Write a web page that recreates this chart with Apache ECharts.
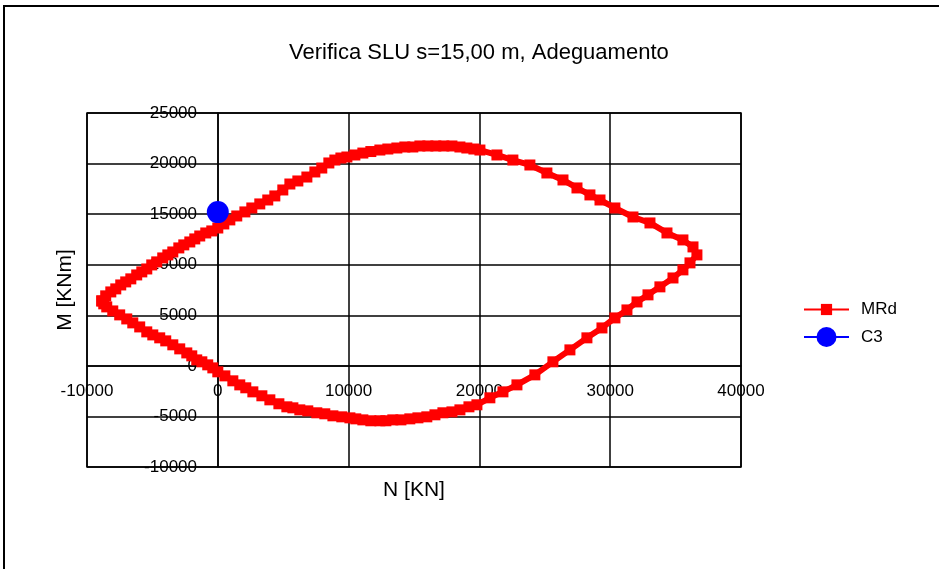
<!DOCTYPE html>
<html>
<head>
<meta charset="utf-8">
<script src="https://cdn.jsdelivr.net/npm/echarts@6/dist/echarts.min.js"></script>
<style>
html,body{margin:0;padding:0;background:#fff;}
#chart{width:939px;height:569px;}
</style>
</head>
<body>
<div id="chart"></div>
<script>
// MRd interaction domain (N [KN], M [KNm])
const mrdN = [-8870,-8570,-8180,-7800,-7420,-7040,-6650,-6200,-5810,-5430,-5050,-4670,-4210,-3820,-3440,-2980,-2600,-2140,-1760,-1380,-920,-460,0,460,920,1450,2070,2600,3210,3820,4360,4970,5510,6120,6810,7420,7950,8490,8950,9410,9870,10480,11090,11700,12390,13000,13690,14300,14910,15450,16060,16670,17280,17900,18510,19040,19580,20040,21340,22560,23860,25160,26390,27460,28450,29220,30360,31740,33040,34340,35560,36330,36630,
36100,35560,34800,33800,32890,32050,31280,30360,29370,28220,26920,25620,24240,22870,21800,20800,19810,19200,18510,17900,17210,16600,15980,15300,14680,14000,13380,12850,12390,11700,11090,10550,10100,9480,8800,8180,7570,6880,6270,5740,5280,4670,3980,3370,2680,2140,1680,1150,540,0,-380,-770,-1220,-1610,-1990,-2370,-2910,-3440,-3980,-4440,-4970,-5430,-5970,-6500,-6960,-7500,-8030,-8490,-8720,-8870];
const mrdM = [6420,6920,7310,7610,8000,8300,8600,8990,9290,9580,9980,10280,10670,10970,11260,11660,11960,12250,12550,12840,13140,13340,13630,14030,14430,14820,15220,15610,16010,16400,16800,17390,17980,18280,18670,19170,19560,20060,20350,20550,20650,20850,21040,21190,21340,21440,21540,21640,21640,21740,21740,21740,21740,21740,21640,21540,21440,21340,20850,20350,19860,19070,18380,17590,16900,16400,15610,14720,14130,13140,12450,11760,10970,
10180,9490,8690,7810,7020,6320,5530,4740,3750,2770,1580,400,-890,-1880,-2570,-3160,-3850,-4050,-4350,-4550,-4640,-4840,-5040,-5140,-5240,-5340,-5340,-5430,-5430,-5430,-5340,-5240,-5140,-5040,-4940,-4740,-4640,-4450,-4350,-4150,-4050,-3750,-3360,-2960,-2570,-2170,-1880,-1480,-990,-590,-200,100,400,590,990,1280,1680,2080,2470,2770,3060,3360,3850,4250,4640,5040,5430,5830,6130,6420];
const c3N = [0];
const c3M = [15200];
const xTicks = {min:-10000, max:40000, interval:10000};
const yTicks = {min:-10000, max:25000, interval:5000};

const mrdData = mrdN.map((n,i)=>[n, mrdM[i]]);
const c3Data = c3N.map((n,i)=>[n, c3M[i]]);
const FONT = "'Liberation Sans', Arial, sans-serif";
const plain = v => String(v);

// grid geometry
const G = {left:87, right:198, top:113, bottom:102, W:939, H:569};
const gridW = G.W - G.left - G.right;
const gridH = G.H - G.top - G.bottom;
// axes cross at the origin: shift each axis line to the other axis' zero
const xAxisOffset = -Math.round((0 - yTicks.min) / (yTicks.max - yTicks.min) * gridH);
const yAxisOffset = -Math.round((0 - xTicks.min) / (xTicks.max - xTicks.min) * gridW);

const chart = echarts.init(document.getElementById('chart'));
chart.setOption({
  animation:false,
  backgroundColor:'#fff',
  textStyle:{fontFamily:FONT},
  graphic:[{type:'rect', silent:true, z:100, shape:{x:4,y:6,width:1000,height:1000}, style:{fill:'none', stroke:'#000', lineWidth:2}}],
  title:{text:'Verifica SLU s=15,00 m, Adeguamento', left:289, top:42, padding:0,
    textStyle:{fontFamily:FONT, fontSize:22, fontWeight:'normal', color:'#000'}},
  grid:{left:G.left, right:G.right, top:G.top, bottom:G.bottom, show:true, borderColor:'#000', borderWidth:1.5,
    containLabel:false, outerBoundsMode:'none'},
  legend:[
    {data:['MRd'], orient:'vertical', left:803, top:301, itemWidth:45, itemHeight:14, padding:0,
      textStyle:{fontFamily:FONT, fontSize:17, color:'#000', padding:[0,0,0,7]}},
    {data:['C3'], orient:'vertical', left:803, top:327, itemWidth:45, itemHeight:25, padding:0,
      textStyle:{fontFamily:FONT, fontSize:17, color:'#000', padding:[0,0,0,7]}}
  ],
  xAxis:{type:'value', min:xTicks.min, max:xTicks.max, interval:xTicks.interval, position:'bottom', offset:xAxisOffset,
    name:'N [KN]', nameLocation:'middle', nameGap:114, nameMoveOverlap:false,
    nameTextStyle:{fontFamily:FONT, fontSize:21, color:'#000'},
    axisLine:{show:true, onZero:false, lineStyle:{color:'#000', width:1.5}},
    axisTick:{show:false},
    axisLabel:{fontFamily:FONT, fontSize:17, color:'#000', margin:17, showMinLabel:true, showMaxLabel:true, formatter:plain},
    splitLine:{show:true, lineStyle:{color:'#000', width:1.5}}
  },
  yAxis:{type:'value', min:yTicks.min, max:yTicks.max, interval:yTicks.interval, position:'left', offset:yAxisOffset,
    name:'M [KNm]', nameLocation:'middle', nameGap:142, nameRotate:90, nameMoveOverlap:false,
    nameTextStyle:{fontFamily:FONT, fontSize:21, color:'#000'},
    axisLine:{show:true, onZero:false, lineStyle:{color:'#000', width:1.5}},
    axisTick:{show:false},
    axisLabel:{fontFamily:FONT, fontSize:17, color:'#000', margin:21, showMinLabel:true, showMaxLabel:true, formatter:plain},
    splitLine:{show:true, lineStyle:{color:'#000', width:1.5}}
  },
  series:[
    {name:'MRd', type:'line', data:mrdData, symbol:'rect', symbolSize:11, showSymbol:true, showAllSymbol:true,
      itemStyle:{color:'#ff0000'}, lineStyle:{color:'#ff0000', width:6}, emphasis:{disabled:true}, z:3},
    {name:'C3', type:'line', data:c3Data, symbol:'circle', symbolSize:22,
      itemStyle:{color:'#0000ff'}, lineStyle:{color:'#0000ff', width:4}, emphasis:{disabled:true}, z:4}
  ]
});
</script>
</body>
</html>
